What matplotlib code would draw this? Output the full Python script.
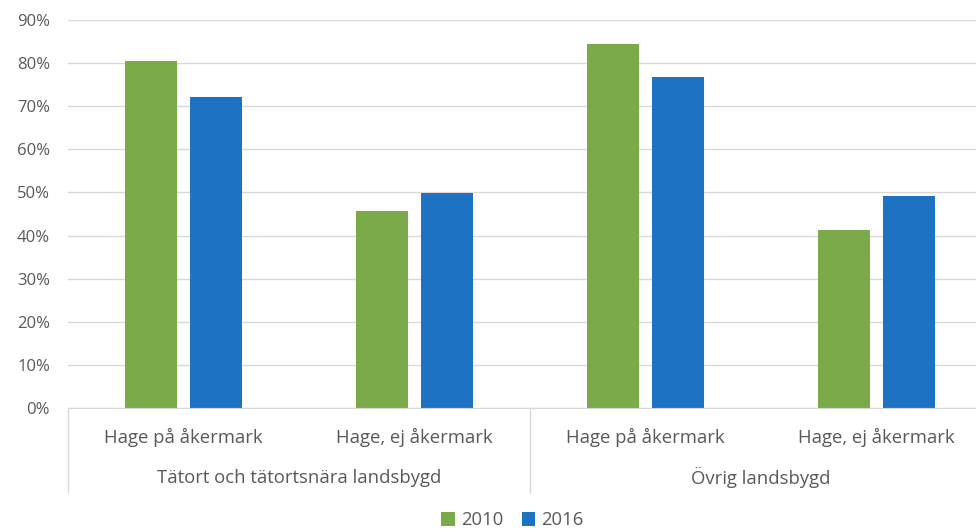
import numpy as np
import matplotlib.pyplot as plt
import matplotlib.transforms as mtransforms

plt.rcParams['font.family'] = ['Open Sans', 'DejaVu Sans']

sub_labels = ['Hage på åkermark', 'Hage, ej åkermark', 'Hage på åkermark', 'Hage, ej åkermark']
group_labels = ['Tätort och tätortsnära landsbygd', 'Övrig landsbygd']
vals_2010 = [80.5, 45.8, 84.5, 41.3]
vals_2016 = [72.2, 49.9, 76.8, 49.2]

text_col = '#595959'
grid_col = '#d9d9d9'

fig = plt.figure(figsize=(9.76, 5.32), dpi=100)
# plot area runs a bit past the right edge of the picture, as in the original
ax = fig.add_axes([68 / 976, 124 / 532, 924 / 976, 388 / 532])

x = np.arange(len(sub_labels))
w = 0.225
off = (w + 0.057) / 2
ax.bar(x - off, vals_2010, w, color='#7AAB48', label='2010', zorder=3)
ax.bar(x + off, vals_2016, w, color='#1E72C4', label='2016', zorder=3)

ax.set_xlim(-0.5, 3.5)
ax.set_ylim(0, 90)
ax.set_yticks(range(0, 91, 10))
ax.set_yticklabels([f'{v}%' for v in range(0, 91, 10)], color=text_col, fontsize=12)
ax.tick_params(axis='y', length=0, pad=13)
ax.set_xticks([])
ax.grid(axis='y', color=grid_col, linewidth=1, zorder=0)
for s in ['top', 'right', 'left']:
    ax.spines[s].set_visible(False)
ax.spines['bottom'].set_color(grid_col)
ax.spines['bottom'].set_zorder(4)

trans = mtransforms.blended_transform_factory(ax.transData, ax.transAxes)
for i, lab in enumerate(sub_labels):
    ax.text(i, -0.075, lab, transform=trans, ha='center', va='center',
            color=text_col, fontsize=13.3)
for g, lab in enumerate(group_labels):
    ax.text(2 * g + 0.5, -0.18, lab, transform=trans, ha='center', va='center',
            color=text_col, fontsize=13.3)
for xs in [-0.5, 1.5, 3.5]:
    ax.plot([xs, xs], [0, -0.216], transform=trans, color=grid_col,
            linewidth=1, clip_on=False)

fig.legend(loc='center', bbox_to_anchor=(0.525, 0.022), ncol=2, frameon=False,
           handlelength=0.75, handleheight=0.75, handletextpad=0.3, columnspacing=1.0,
           labelcolor=text_col, fontsize=13.3)

fig.savefig('out.png', dpi=100)
